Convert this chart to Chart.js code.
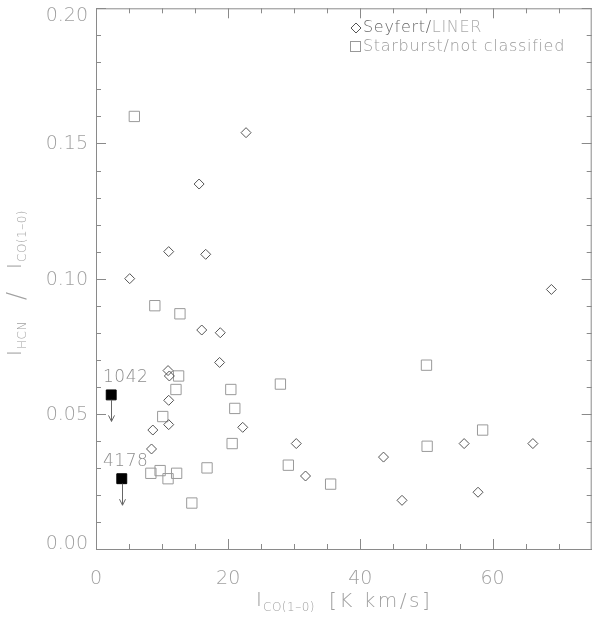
<!DOCTYPE html>
<html>
<head>
<meta charset="utf-8">
<script src="https://cdn.jsdelivr.net/npm/chart.js@4/dist/chart.umd.min.js"></script>
<style>
  body { margin: 0; background: #fff; }
  canvas { display: block; }
</style>
</head>
<body>
<canvas id="ratioChart" width="600" height="621"></canvas>
<script>
// Seyfert / LINER galaxies (diamonds)
const seyfertX = [22.7, 15.6, 11.0, 16.6, 5.1, 68.9, 16.0, 18.8, 18.7, 10.9, 11.1, 11.0, 11.0, 8.6, 8.4, 22.2, 30.3, 31.7, 43.5, 46.3, 55.7, 57.8, 66.1];
const seyfertY = [0.154, 0.135, 0.110, 0.109, 0.100, 0.096, 0.081, 0.080, 0.069, 0.066, 0.064, 0.055, 0.046, 0.044, 0.037, 0.045, 0.039, 0.027, 0.034, 0.018, 0.039, 0.021, 0.039];

// Starburst / not classified (open squares)
const starburstX = [5.8, 8.9, 12.7, 12.5, 12.1, 10.1, 20.4, 21.0, 20.6, 27.9, 29.1, 8.3, 9.7, 10.9, 12.2, 16.8, 14.5, 35.5, 50.0, 50.1, 58.5];
const starburstY = [0.160, 0.090, 0.087, 0.064, 0.059, 0.049, 0.059, 0.052, 0.039, 0.061, 0.031, 0.028, 0.029, 0.026, 0.028, 0.030, 0.017, 0.024, 0.068, 0.038, 0.044];

// upper limits (filled squares with arrows)
const limitX = [2.3, 3.9];
const limitY = [0.057, 0.026];
const limitLabels = ['1042', '4178'];

const xTicks = [0, 20, 40, 60];
const yTicks = [0, 0.05, 0.10, 0.15, 0.20];
const xMinor = [5, 10, 15, 25, 30, 35, 45, 50, 55, 65, 70];
const yMinor = [0.01, 0.02, 0.03, 0.04, 0.06, 0.07, 0.08, 0.09, 0.11, 0.12, 0.13, 0.14, 0.16, 0.17, 0.18, 0.19];

const FONT = 'DejaVu Sans';
const AXIS_COLOR = '#8a8a8a';
const TEXT_COLOR = '#a0a0a0';

const toPoints = (xs, ys) => xs.map((x, i) => ({ x: x, y: ys[i] }));

// ticks on all four sides, box frame, y labels, arrows, legend, axis titles
const decorPlugin = {
  id: 'decor',
  afterDraw(chart) {
    const ctx = chart.ctx;
    const xs = chart.scales.x, ys = chart.scales.y;
    const a = chart.chartArea;
    ctx.save();
    ctx.strokeStyle = AXIS_COLOR;
    ctx.lineWidth = 1;
    ctx.beginPath();
    // frame top and right
    ctx.moveTo(a.left, a.top + 0.5); ctx.lineTo(a.right, a.top + 0.5);
    ctx.moveTo(a.right - 0.5, a.top); ctx.lineTo(a.right - 0.5, a.bottom);
    const xt = (v, len) => {
      const px = Math.round(xs.getPixelForValue(v)) + 0.5;
      ctx.moveTo(px, a.bottom); ctx.lineTo(px, a.bottom - len);
      ctx.moveTo(px, a.top); ctx.lineTo(px, a.top + len);
    };
    const yt = (v, len) => {
      const py = Math.round(ys.getPixelForValue(v)) + 0.5;
      ctx.moveTo(a.left, py); ctx.lineTo(a.left + len, py);
      ctx.moveTo(a.right, py); ctx.lineTo(a.right - len, py);
    };
    xTicks.forEach(v => xt(v, 10));
    xMinor.forEach(v => xt(v, 5));
    yTicks.forEach(v => yt(v, 10));
    yMinor.forEach(v => yt(v, 5));
    ctx.stroke();

    // y tick labels, kept inside the canvas at the ends
    ctx.fillStyle = TEXT_COLOR;
    ctx.font = '200 19px ' + FONT;
    ctx.textAlign = 'right';
    ctx.textBaseline = 'middle';
    yTicks.forEach(v => {
      const py = ys.getPixelForValue(v) + 1;
      const cy = Math.min(Math.max(py, a.top + 8), a.bottom - 5);
      ctx.fillText(v.toFixed(2), a.left - 8, cy);
    });

    // upper-limit arrows and labels
    ctx.strokeStyle = '#666';
    ctx.fillStyle = '#8c8c8c';
    ctx.font = '200 17px ' + FONT;
    ctx.textAlign = 'left';
    ctx.letterSpacing = '0.5px';
    limitX.forEach((x, i) => {
      const px = Math.round(xs.getPixelForValue(x)) + 0.5;
      const py = ys.getPixelForValue(limitY[i]);
      const tip = ys.getPixelForValue(limitY[i] - 0.0098);
      ctx.beginPath();
      ctx.moveTo(px, py + 5);
      ctx.lineTo(px, tip);
      ctx.moveTo(px - 3, tip - 6);
      ctx.lineTo(px, tip);
      ctx.lineTo(px + 3, tip - 6);
      ctx.stroke();
      ctx.fillText(limitLabels[i], a.left + 7, py - 17);
    });

    // legend
    const lx = a.left + 260, ly1 = 28, ly2 = 47;
    ctx.beginPath();
    ctx.strokeStyle = '#555';
    ctx.moveTo(lx - 5, ly1); ctx.lineTo(lx, ly1 - 5); ctx.lineTo(lx + 5, ly1); ctx.lineTo(lx, ly1 + 5); ctx.closePath();
    ctx.stroke();
    ctx.strokeStyle = '#999';
    ctx.strokeRect(lx - 5.5, ly2 - 5.5, 10, 10);
    ctx.font = '200 16px ' + FONT;
    ctx.letterSpacing = '0.7px';
    ctx.fillStyle = '#666';
    ctx.fillText('Seyfert/', lx + 7, ly1);
    const w = ctx.measureText('Seyfert/').width;
    ctx.fillStyle = '#aaa';
    ctx.fillText('LINER', lx + 7 + w, ly1);
    ctx.fillStyle = '#999';
    ctx.fillText('Starburst/not classified', lx + 7, ly2);

    // x axis title
    ctx.textBaseline = 'alphabetic';
    ctx.fillStyle = TEXT_COLOR;
    ctx.letterSpacing = '0px';
    ctx.font = '200 20px ' + FONT;
    ctx.fillText('I', 256, 606);
    ctx.font = '200 12px ' + FONT;
    ctx.letterSpacing = '0.5px';
    ctx.fillText('CO(1\u20130)', 263, 611);
    ctx.font = '200 20px ' + FONT;
    ctx.letterSpacing = '2.5px';
    ctx.fillText('[K km/s]', 329, 607);
    ctx.letterSpacing = '0.5px';

    // y axis title (rotated)
    ctx.translate(21, 356);
    ctx.rotate(-Math.PI / 2);
    ctx.font = '200 20px ' + FONT;
    ctx.fillText('I', 0, 0);
    ctx.font = '200 12px ' + FONT;
    ctx.fillText('HCN', 7, 5);
    ctx.font = '200 24px ' + FONT;
    ctx.fillText('/', 56, 3);
    ctx.font = '200 20px ' + FONT;
    ctx.fillText('I', 87, 0);
    ctx.font = '200 12px ' + FONT;
    ctx.fillText('CO(1\u20130)', 94, 5);
    ctx.restore();
  }
};

new Chart(document.getElementById('ratioChart'), {
  type: 'scatter',
  data: {
    datasets: [
      {
        label: 'Seyfert/LINER',
        data: toPoints(seyfertX, seyfertY),
        pointStyle: 'rectRot',
        pointRadius: 5,
        borderColor: '#555',
        backgroundColor: 'rgba(0,0,0,0)',
        borderWidth: 1
      },
      {
        label: 'Starburst/not classified',
        data: toPoints(starburstX, starburstY),
        pointStyle: 'rect',
        pointRadius: 7.3,
        borderColor: '#9a9a9a',
        backgroundColor: 'rgba(0,0,0,0)',
        borderWidth: 1
      },
      {
        label: 'upper limits',
        data: toPoints(limitX, limitY),
        pointStyle: 'rect',
        pointRadius: 7,
        borderColor: '#000',
        backgroundColor: '#000',
        borderWidth: 1
      }
    ]
  },
  options: {
    responsive: false,
    animation: false,
    events: [],
    layout: { padding: { top: 5, right: 5, left: 0, bottom: 0 } },
    plugins: {
      legend: { display: false },
      tooltip: { enabled: false }
    },
    scales: {
      x: {
        type: 'linear',
        min: 0,
        max: 75,
        afterFit: s => { s.height = 72; s.paddingLeft = 0; s.paddingRight = 0; },
        afterBuildTicks: s => { s.ticks = xTicks.map(v => ({ value: v })); },
        grid: { display: false, drawTicks: false },
        border: { display: true, color: AXIS_COLOR, width: 1 },
        ticks: {
          color: TEXT_COLOR,
          padding: 19,
          maxRotation: 0,
          font: { family: FONT, size: 19, weight: '200' }
        }
      },
      y: {
        type: 'linear',
        min: 0,
        max: 0.2,
        afterFit: s => { s.width = 96; s.paddingTop = 0; s.paddingBottom = 0; },
        afterBuildTicks: s => { s.ticks = yTicks.map(v => ({ value: v })); },
        grid: { display: false, drawTicks: false },
        border: { display: true, color: AXIS_COLOR, width: 1 },
        ticks: { display: false }
      }
    }
  },
  plugins: [decorPlugin]
});
</script>
</body>
</html>
